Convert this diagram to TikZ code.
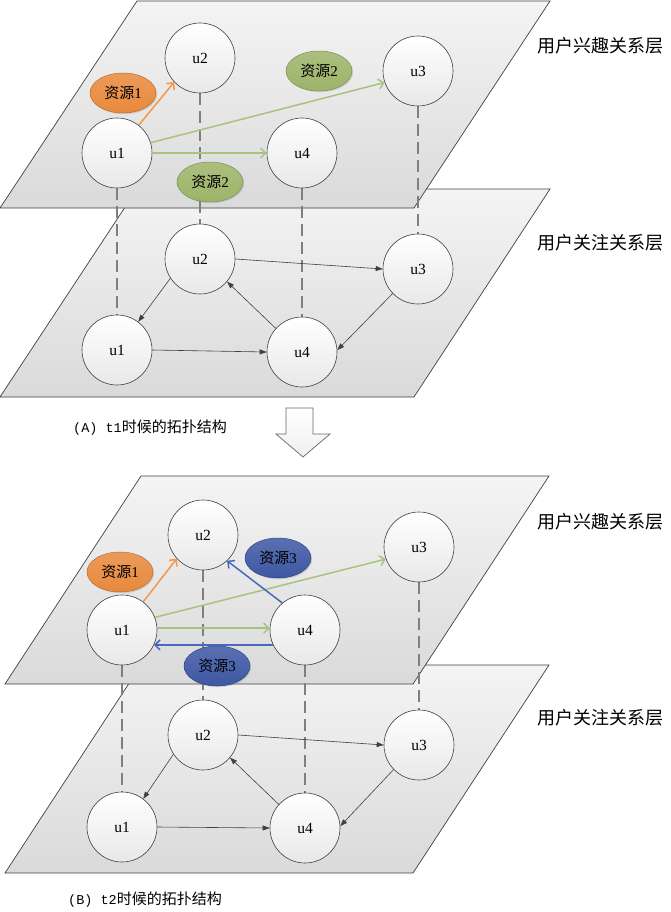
\documentclass[tikz,border=0pt]{standalone}
\usepackage{fontspec}
\setmainfont{Liberation Serif}
\newfontfamily\cjk{Noto Sans CJK SC}
\newfontfamily\monof{Liberation Mono}
\usetikzlibrary{shapes.geometric,arrows.meta,shadows}
\definecolor{planeTop}{HTML}{F4F4F4}
\definecolor{planeBot}{HTML}{DADADA}
\definecolor{edgegray}{HTML}{404040}
\definecolor{dashgray}{HTML}{7F7F7F}
\definecolor{orangeR}{HTML}{E8893C}
\definecolor{greenR}{HTML}{9CB469}
\definecolor{blueR}{HTML}{3D57A3}
\definecolor{orangeL}{HTML}{F79646}
\definecolor{greenL}{HTML}{A9C280}
\definecolor{blueL}{HTML}{4A67BE}
\pgfdeclarelayer{bg}
\pgfdeclarelayer{mid}
\pgfsetlayers{bg,mid,main}
\tikzset{
  plane/.style={draw=edgegray, line width=0.7pt, top color=planeTop, bottom color=planeBot},
  user/.style={circle, draw=edgegray, line width=0.6pt, minimum size=70pt, inner sep=0pt,
    top color=white, bottom color=black!9, font=\fontsize{15.5}{15.5}\selectfont},
  res/.style={ellipse, minimum width=66pt, minimum height=40pt, inner sep=0pt, line width=0.5pt,
    font=\fontsize{15}{15}\selectfont,
    drop shadow={opacity=0.25, shadow xshift=1.2pt, shadow yshift=-1.2pt}},
  resorange/.style={res, draw=orangeR!80!black, top color=orangeR!85!white, bottom color=orangeR},
  resgreen/.style={res, draw=greenR!80!black, top color=greenR!85!white, bottom color=greenR},
  resblue/.style={res, draw=blueR!80!black, top color=blueR!85!white, bottom color=blueR},
  follow/.style={-{Triangle[length=7pt,width=5pt]}, draw=edgegray, line width=0.6pt},
  interest/.style={-{Straight Barb[length=5pt,width=10pt]}, line width=1.5pt},
  vlink/.style={draw=dashgray, line width=2.2pt, dash pattern=on 12pt off 6pt},
  layerlabel/.style={anchor=west, inner sep=0pt, font=\cjk\fontsize{18}{18}\selectfont},
  caption/.style={anchor=west, inner sep=0pt},
  blockarrow/.style={draw=black!60, line width=0.7pt, top color=white, bottom color=black!6}
}
\newcommand{\zy}{{\cjk 资源}}
\begin{document}
\begin{tikzpicture}[x=1pt,y=-1pt]
\useasboundingbox (0,0) rectangle (671,912);
% ---------- planes ----------
\begin{pgfonlayer}{bg}
\path[plane] (137,189) -- (550,189) -- (414,397) -- (0,397) -- cycle;
\path[plane] (137,1) -- (550,1) -- (414,208) -- (0,208) -- cycle;
\path[plane] (141,665) -- (549,665) -- (413,873) -- (5,873) -- cycle;
\path[plane] (141,476) -- (549,476) -- (413,684) -- (5,684) -- cycle;
\end{pgfonlayer}
% ---------- (A) interest layer ----------
\node[user] (a1) at (117,153) {u1};
\node[user] (a2) at (200,58) {u2};
\node[user] (a3) at (418,71) {u3};
\node[user] (a4) at (302,153) {u4};
\node[resorange] (ra1) at (123,93) {\zy1};
\node[resgreen] (ra2) at (319,71) {\zy2};
\node[resgreen] (ra3) at (210,182) {\zy2};
% ---------- (A) follow layer ----------
\node[user] (c1) at (117,350) {u1};
\node[user] (c2) at (200,259) {u2};
\node[user] (c3) at (418,269) {u3};
\node[user] (c4) at (302,352) {u4};
% ---------- (B) interest layer ----------
\node[user] (b1) at (122,630) {u1};
\node[user] (b2) at (203,535) {u2};
\node[user] (b3) at (419,547) {u3};
\node[user] (b4) at (305,630) {u4};
\node[resorange] (rb1) at (120,572) {\zy1};
\node[resblue] (rb2) at (278,558) {\zy3};
\node[resblue] (rb3) at (217,666) {\zy3};
% ---------- (B) follow layer ----------
\node[user] (d1) at (122,827) {u1};
\node[user] (d2) at (203,735) {u2};
\node[user] (d3) at (419,745) {u3};
\node[user] (d4) at (305,828) {u4};
% ---------- vertical dashed links ----------
\begin{pgfonlayer}{mid}
\foreach \i in {1,2,3,4}{
  \draw[vlink] (a\i.south) -- (c\i.north);
  \draw[vlink] (b\i.south) -- (d\i.north);
}
\end{pgfonlayer}
% ---------- interest arrows (A) ----------
\draw[interest, orangeL] (a1.52) -- (a2.223);
\draw[interest, greenL] (a1.17) -- (a3.199);
\draw[interest, greenL] (a1.east) -- (a4.west);
% ---------- follow arrows (A) ----------
\draw[follow] (c2.east) -- (c3.west);
\draw[follow] (c2.213) -- (c1.53);
\draw[follow] (c4.138) -- (c2.320);
\draw[follow] (c3.224) -- (c4.3);
\draw[follow] (c1.east) -- (c4.west);
% ---------- interest arrows (B) ----------
\draw[interest, orangeL] (b1.53) -- (b2.222);
\draw[interest, greenL] (b1.21) -- (b3.200);
\draw[interest, greenL] (b1.3) -- (b4.177);
\draw[interest, blueL] (b4.205) -- (b1.335);
\draw[interest, blueL] (b4.130) -- (b2.313);
% ---------- follow arrows (B) ----------
\draw[follow] (d2.east) -- (d3.west);
\draw[follow] (d2.213) -- (d1.53);
\draw[follow] (d4.138) -- (d2.320);
\draw[follow] (d3.224) -- (d4.3);
\draw[follow] (d1.east) -- (d4.west);
% ---------- layer labels ----------
\node[layerlabel] (la1) at (537,46) {用户兴趣关系层};
\node[layerlabel] (la2) at (537,243) {用户关注关系层};
\node[layerlabel] (lb1) at (537,522) {用户兴趣关系层};
\node[layerlabel] (lb2) at (537,718) {用户关注关系层};
% ---------- captions ----------
\node[caption] (capA) at (73,428) {{\monof\fontsize{13.5}{14}\selectfont (A) t1}{\cjk\fontsize{15}{15}\selectfont 时候的拓扑结构}};
\node[caption] (capB) at (68,900) {{\monof\fontsize{13.5}{14}\selectfont (B) t2}{\cjk\fontsize{15}{15}\selectfont 时候的拓扑结构}};
% ---------- block arrow ----------
\path[blockarrow] (286,408) -- (313,408) -- (313,434) -- (330,434) -- (303,457) -- (276,434) -- (286,434) -- cycle;
\end{tikzpicture}
\end{document}
